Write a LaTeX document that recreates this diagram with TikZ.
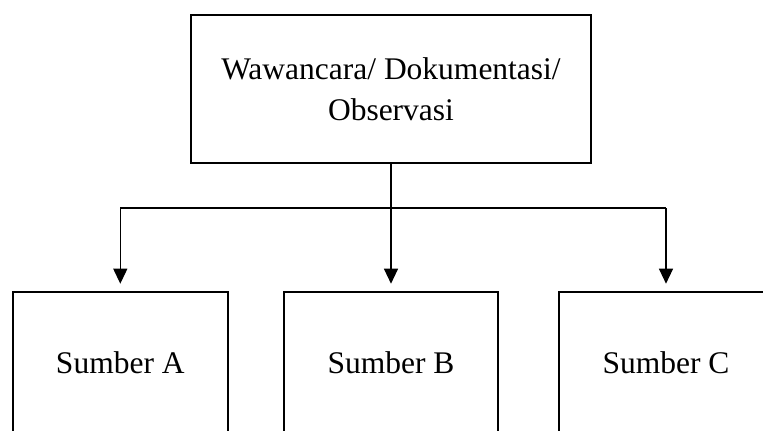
\documentclass[tikz,border=0pt]{standalone}
\usepackage{fontspec}
\setmainfont{Liberation Serif}
\usetikzlibrary{arrows.meta}
\tikzset{
  boxnode/.style={draw, line width=2.6pt, inner sep=0pt, minimum width=#1},
  lbl/.style={font=\fontsize{31.5}{41}\selectfont, align=center},
  conn/.style={line width=1.2pt},
  arr/.style={conn, -{Triangle[length=15pt,width=14pt]}, shorten >=7pt}
}
\begin{document}
\begin{tikzpicture}[x=1pt,y=-1pt]
\useasboundingbox (0,0) rectangle (763,431);
\clip (0,0) rectangle (763,431);
\node[boxnode=400pt, minimum height=148pt, lbl] (top) at (391,89) {Wawancara/ Dokumentasi/\\Observasi};
\node[boxnode=215pt, minimum height=142pt, lbl] (a) at (120.3,363) {Sumber A};
\node[boxnode=214pt, minimum height=142pt, lbl] (b) at (391,363) {Sumber B};
\node[boxnode=214pt, minimum height=142pt, lbl] (c) at (666,363) {Sumber C};
\coordinate (j) at (391,208);
\draw[conn] (top.south) -- (j);
\draw[conn] (j -| a.north) -- (j -| c.north);
\draw[arr] (j -| a.north) -- (a.north);
\draw[arr] (j -| b.north) -- (b.north);
\draw[arr] (j -| c.north) -- (c.north);
\end{tikzpicture}
\end{document}
